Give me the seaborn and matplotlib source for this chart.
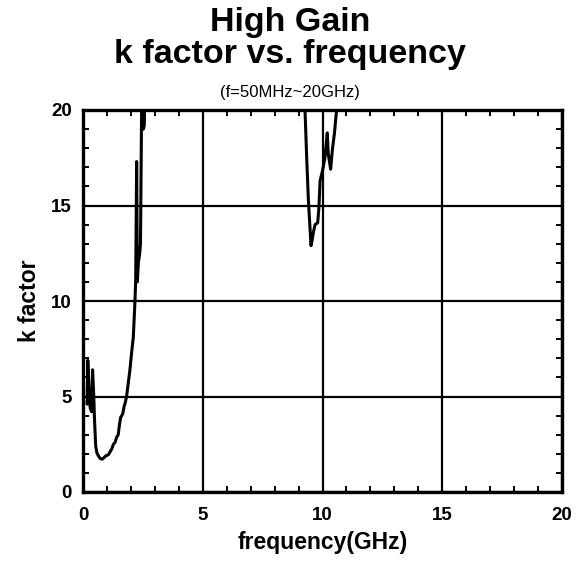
import numpy as np
import pandas as pd
import matplotlib
matplotlib.use("Agg")
import matplotlib.pyplot as plt
import seaborn as sns
from matplotlib.ticker import MultipleLocator

# ---- data ----
freq_ghz = [0.17, 0.20, 0.26, 0.30, 0.36, 0.40, 0.45, 0.48, 0.53, 0.58, 0.64, 0.72,
            0.80, 0.88, 0.96, 1.06, 1.13, 1.20, 1.27, 1.34, 1.40, 1.47, 1.52, 1.57,
            1.62, 1.66, 1.72, 1.75, 1.82, 1.89, 1.96, 2.03, 2.10, 2.17, 2.20, 2.24,
            2.27, 2.31, 2.36, 2.40, 2.45, 2.49, 2.52, 2.56, 2.62,
            9.20, 9.27, 9.34, 9.41, 9.47, 9.52, 9.57, 9.62, 9.69, 9.80, 9.85, 9.90,
            9.96, 10.03, 10.10, 10.20, 10.24, 10.29, 10.34, 10.41, 10.50, 10.55,
            10.59, 10.70, 20.0]
k_factor = [4.6, 6.9, 5.2, 4.4, 4.2, 6.4, 5.0, 3.8, 2.4, 2.05, 1.9, 1.75,
            1.72, 1.8, 1.9, 1.95, 2.1, 2.25, 2.5, 2.6, 2.85, 3.0, 3.5, 3.9,
            4.0, 4.1, 4.5, 4.6, 5.0, 5.7, 6.4, 7.3, 8.1, 10.0, 11.1, 17.3,
            11.0, 12.0, 12.4, 13.0, 20.5, 23.0, 19.0, 19.2, 26.0,
            26.0, 20.0, 17.5, 15.3, 14.0, 12.9, 13.2, 13.6, 14.0, 14.1, 14.9, 16.3,
            16.6, 17.0, 17.5, 18.8, 17.7, 17.3, 16.9, 17.9, 18.8, 19.5,
            20.0, 24.0, 40.0]

x_ticks = [0, 5, 10, 15, 20]
y_ticks = [0, 5, 10, 15, 20]

df = pd.DataFrame({"freq": freq_ghz, "k": k_factor})

sns.set_theme(style="white")
plt.rcParams["font.family"] = ["Liberation Sans", "DejaVu Sans"]
plt.rcParams["text.color"] = "black"
plt.rcParams["axes.labelcolor"] = "black"
plt.rcParams["xtick.color"] = "black"
plt.rcParams["ytick.color"] = "black"

fig = plt.figure(figsize=(5.8, 5.61), dpi=100)
ax = fig.add_axes([83 / 580, 1 - 492 / 561, (562 - 83) / 580, (492 - 110) / 561])

sns.lineplot(data=df, x="freq", y="k", sort=False, estimator=None,
             color="black", linewidth=2.2, ax=ax)

ax.set_xlim(0, 20)
ax.set_ylim(0, 20)
ax.set_xticks(x_ticks)
ax.set_yticks(y_ticks)
ax.set_xticklabels([str(t) for t in x_ticks], fontsize=13.5, fontweight="bold")
ax.set_yticklabels([str(t) for t in y_ticks], fontsize=13.5, fontweight="bold")
ax.xaxis.set_minor_locator(MultipleLocator(1))
ax.yaxis.set_minor_locator(MultipleLocator(1))
ax.grid(True, which="major", color="black", linewidth=1.6)
ax.set_axisbelow(False)
ax.tick_params(axis="x", which="major", length=0, pad=11)
ax.tick_params(axis="y", which="major", length=0, pad=8)
ax.tick_params(which="minor", direction="in", length=4, width=1.4,
               top=True, right=True, bottom=True, left=True, color="black")
for s in ax.spines.values():
    s.set_visible(True)
    s.set_color("black")
    s.set_linewidth(2.4)

ax.set_xlabel("frequency(GHz)", fontsize=16.5, fontweight="bold", labelpad=5)
ax.set_ylabel("k factor", fontsize=16.5, fontweight="bold", labelpad=7)

fig.text(0.5, 1 - 23 / 561, "High Gain", ha="center", va="center",
         fontsize=24.5, fontweight="bold")
fig.text(0.5, 1 - 55 / 561, "k factor vs. frequency", ha="center", va="center",
         fontsize=24.5, fontweight="bold")
fig.text(0.5, 1 - 93 / 561, "(f=50MHz~20GHz)", ha="center", va="center",
         fontsize=12)

fig.savefig("out.png", dpi=100, facecolor="white")
